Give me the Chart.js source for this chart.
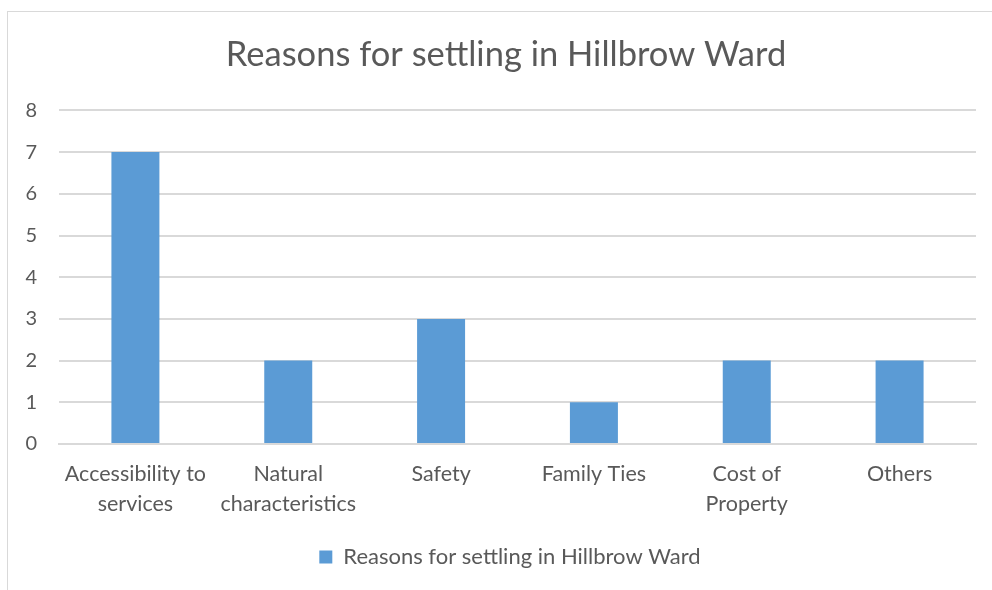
<!DOCTYPE html>
<html>
<head>
<meta charset="utf-8">
<title>Reasons for settling in Hillbrow Ward</title>
<script src="https://cdn.jsdelivr.net/npm/chart.js@4/dist/chart.umd.min.js"></script>
<style>
  html, body { margin: 0; padding: 0; background: #fff; }
  #frame {
    position: absolute; left: 7px; top: 11px;
    width: 992px; height: 590px;
    border-left: 1px solid #d9d9d9; border-top: 1px solid #d9d9d9;
  }
  #wrap { position: absolute; left: 0; top: 0; width: 992px; height: 590px; }
</style>
</head>
<body>
<div id="frame"></div>
<div id="wrap"><canvas id="chartCanvas" width="992" height="590"></canvas></div>
<script>
const chartTitle = "Reasons for settling in Hillbrow Ward";
const categories = [
  ["Accessibility to", "services"],
  ["Natural", "characteristics"],
  "Safety",
  "Family Ties",
  ["Cost of", "Property"],
  "Others"
];
const counts = [7, 2, 3, 1, 2, 2];
const yTicks = [0, 1, 2, 3, 4, 5, 6, 7, 8];

const textColor = "#595959";
const gridColor = "#d9d9d9";
const barColor = "#5b9bd5";
const fontFamily = "Lato, 'Open Sans', sans-serif";

const canvas = document.getElementById("chartCanvas");

// title and legend are centred on the whole frame, not on the plot
const shiftBlocks = {
  id: "shiftBlocks",
  afterLayout(c) {
    if (c.titleBlock) { c.titleBlock.left += 18; c.titleBlock.right += 18; }
    if (c.legend) { c.legend.left += 22; c.legend.right += 22; }
  }
};

const chart = new Chart(canvas, {
  type: "bar",
  data: {
    labels: categories,
    datasets: [{
      label: chartTitle,
      data: counts,
      backgroundColor: barColor,
      borderWidth: 0,
      categoryPercentage: 1,
      barPercentage: 0.314
    }]
  },
  options: {
    responsive: false,
    animation: false,
    layout: { padding: { left: 0, right: 16, top: 0, bottom: 12 } },
    plugins: {
      title: {
        display: true,
        text: chartTitle,
        color: textColor,
        font: { family: fontFamily, size: 34.5, weight: "normal" },
        padding: { top: 34, bottom: 35 }
      },
      legend: {
        position: "bottom",
        labels: {
          color: textColor,
          font: { family: fontFamily, size: 22 },
          boxWidth: 13,
          boxHeight: 13,
          padding: 10
        }
      },
      tooltip: { enabled: false }
    },
    scales: {
      x: {
        grid: { display: false },
        border: { display: true, color: gridColor, width: 2 },
        ticks: {
          color: textColor,
          font: { family: fontFamily, size: 21.5, lineHeight: 1.4 },
          maxRotation: 0,
          autoSkip: false,
          padding: 7
        },
        afterFit: s => { s.height = 92; }
      },
      y: {
        min: 0,
        max: 8,
        afterBuildTicks: s => { s.ticks = yTicks.map(v => ({ value: v })); },
        grid: { color: gridColor, lineWidth: 2, drawTicks: false },
        border: { display: false },
        ticks: {
          color: textColor,
          font: { family: fontFamily, size: 20 },
          padding: 22
        },
        afterFit: s => { s.width = 59; }
      }
    }
  },
  plugins: [shiftBlocks]
});
</script>
</body>
</html>
